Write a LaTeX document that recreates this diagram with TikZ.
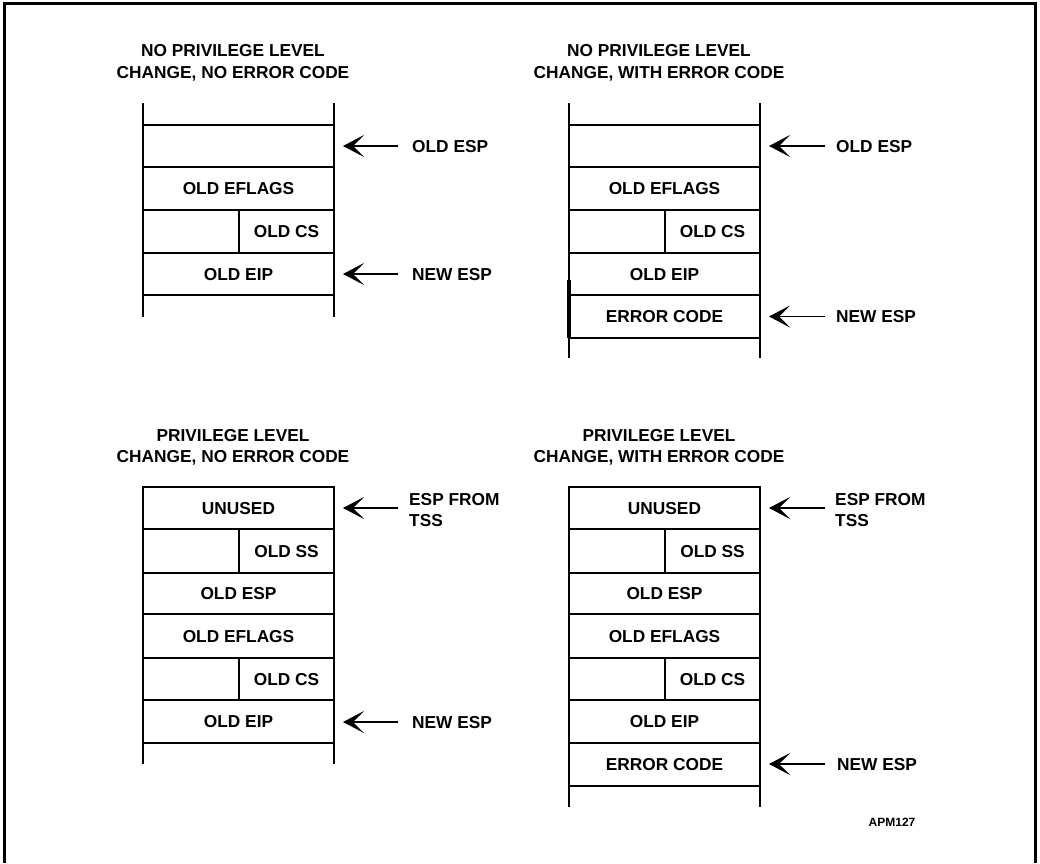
\documentclass[tikz,border=0pt]{standalone}
\usepackage{fontspec}
\setmainfont{Liberation Sans}
\usetikzlibrary{arrows.meta}
\tikzset{
  vline/.style={line width=2.2pt, line cap=butt},
  hline/.style={line width=1.2pt},
  sline/.style={line width=1.2pt},
  lbl/.style={anchor=base, inner sep=0pt, font=\bfseries\fontsize{17.3}{21}\selectfont},
  side/.style={lbl, anchor=base west},
  ptr/.style={line width=1.2pt, -{Stealth[length=21pt, width=22pt, inset=11pt]}},
  small/.style={anchor=base, inner sep=0pt, font=\bfseries\fontsize{12}{14}\selectfont}
}
\begin{document}
\begin{tikzpicture}[x=1pt, y=-1pt]
\useasboundingbox (0,0) rectangle (1040,863);
% frame (no bottom line)
\draw[line width=3pt] (4,863) -- (4,3) -- (1035.5,3) -- (1035.5,863);

% ===== Top-left: no privilege level change, no error code
\node[lbl] (ta1) at (233,56.2) {NO PRIVILEGE LEVEL};
\node[lbl] (ta2) at (233,78.2) {CHANGE, NO ERROR CODE};
\draw[vline] (143,103) -- (143,317);
\draw[vline] (334,103) -- (334,317);
\foreach \y in {125,167,210,253,295} \draw[hline] (143,\y) -- (334,\y);
\draw[sline] (239,210) -- (239,253);
\node[lbl] (a2) at (238.5,194.7) {OLD EFLAGS};
\node[lbl] (a3) at (286.5,237.7) {OLD CS};
\node[lbl] (a4) at (238.5,280.2) {OLD EIP};
\node[side] (ao) at (412,152.2) {OLD ESP};
\node[side] (an) at (412,280.2) {NEW ESP};
\coordinate (aot) at (398,146); \coordinate (aoh) at (343,146);
\coordinate (ant) at (398,274); \coordinate (anh) at (343,274);
\draw[ptr] (aot) -- (aoh);
\draw[ptr] (ant) -- (anh);

% ===== Top-right: no privilege level change, with error code
\node[lbl] (tb1) at (659,56.2) {NO PRIVILEGE LEVEL};
\node[lbl] (tb2) at (659,78.2) {CHANGE, WITH ERROR CODE};
\draw[vline] (569,103) -- (569,358);
\draw[vline] (760,103) -- (760,358);
\draw[line width=4pt] (569,280) -- (569,338);
\foreach \y in {125,167,210,253,295,338} \draw[hline] (569,\y) -- (760,\y);
\draw[sline] (665,210) -- (665,253);
\node[lbl] (b2) at (664.5,194.7) {OLD EFLAGS};
\node[lbl] (b3) at (712.5,237.7) {OLD CS};
\node[lbl] (b4) at (664.5,280.2) {OLD EIP};
\node[lbl] (b5) at (664.5,322.7) {ERROR CODE};
\node[side] (bo) at (836,152.2) {OLD ESP};
\node[side] (bn) at (836,322.7) {NEW ESP};
\coordinate (bot) at (825,146); \coordinate (boh) at (769,146);
\coordinate (bnt) at (825,316.5); \coordinate (bnh) at (769,316.5);
\draw[ptr] (bot) -- (boh);
\draw[ptr] (bnt) -- (bnh);

% ===== Bottom-left: privilege level change, no error code
\node[lbl] (tc1) at (233,441.2) {PRIVILEGE LEVEL};
\node[lbl] (tc2) at (233,462.2) {CHANGE, NO ERROR CODE};
\draw[vline] (143,764) -- (143,487) -- (334,487) -- (334,764);
\foreach \y in {529,573,614,658,700,743} \draw[hline] (143,\y) -- (334,\y);
\draw[sline] (239,529) -- (239,573);
\draw[sline] (239,658) -- (239,700);
\node[lbl] (c1) at (238.5,514.2) {UNUSED};
\node[lbl] (c2) at (286.5,557.2) {OLD SS};
\node[lbl] (c3) at (238.5,599.7) {OLD ESP};
\node[lbl] (c4) at (238.5,642.2) {OLD EFLAGS};
\node[lbl] (c5) at (286.5,685.2) {OLD CS};
\node[lbl] (c6) at (238.5,727.7) {OLD EIP};
\node[side] (ce1) at (409,505.2) {ESP FROM};
\node[side] (ce2) at (409,526.2) {TSS};
\node[side] (cn) at (412,728.2) {NEW ESP};
\coordinate (cet) at (398,508); \coordinate (ceh) at (343,508);
\coordinate (cnt) at (398,722); \coordinate (cnh) at (343,722);
\draw[ptr] (cet) -- (ceh);
\draw[ptr] (cnt) -- (cnh);

% ===== Bottom-right: privilege level change, with error code
\node[lbl] (td1) at (659,441.2) {PRIVILEGE LEVEL};
\node[lbl] (td2) at (659,462.2) {CHANGE, WITH ERROR CODE};
\draw[vline] (569,807) -- (569,487) -- (760,487) -- (760,807);
\foreach \y in {529,573,614,658,700,743,786} \draw[hline] (569,\y) -- (760,\y);
\draw[sline] (665,529) -- (665,573);
\draw[sline] (665,658) -- (665,700);
\node[lbl] (d1) at (664.5,514.2) {UNUSED};
\node[lbl] (d2) at (712.5,557.2) {OLD SS};
\node[lbl] (d3) at (664.5,599.7) {OLD ESP};
\node[lbl] (d4) at (664.5,642.2) {OLD EFLAGS};
\node[lbl] (d5) at (712.5,685.2) {OLD CS};
\node[lbl] (d6) at (664.5,727.7) {OLD EIP};
\node[lbl] (d7) at (664.5,770.7) {ERROR CODE};
\node[side] (de1) at (835,505.2) {ESP FROM};
\node[side] (de2) at (835,526.2) {TSS};
\node[side] (dn) at (837,770.2) {NEW ESP};
\coordinate (det) at (825,508); \coordinate (deh) at (769,508);
\coordinate (dnt) at (825,764); \coordinate (dnh) at (769,764);
\draw[ptr] (det) -- (deh);
\draw[ptr] (dnt) -- (dnh);

\node[small] (fig) at (892,826.3) {APM127};
\end{tikzpicture}
\end{document}
